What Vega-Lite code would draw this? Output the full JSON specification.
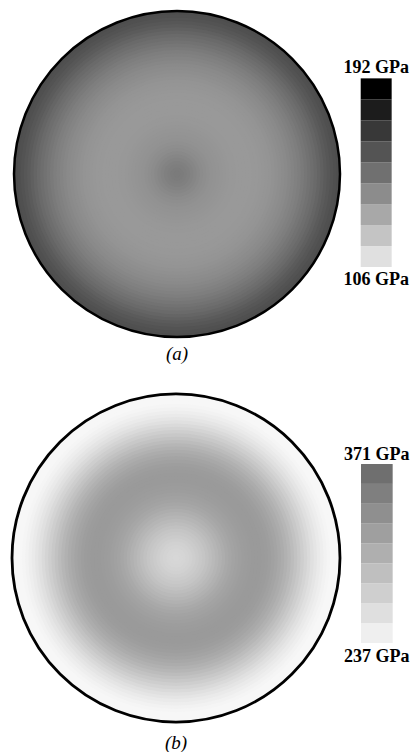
{
  "$schema": "https://vega.github.io/schema/vega-lite/v6.json",
  "padding": 0,
  "spacing": 0,
  "background": "white",
  "config": {"view": {"stroke": null}},
  "resolve": {"scale": {"color": "independent", "size": "independent", "x": "independent", "y": "independent"}},
  "datasets": {
    "ringsA": [
      {"r": 1.00, "E": 160.6}, {"r": 0.98, "E": 159.9}, {"r": 0.96, "E": 158.9}, {"r": 0.94, "E": 157.5},
      {"r": 0.92, "E": 156.2}, {"r": 0.90, "E": 154.5}, {"r": 0.88, "E": 152.8}, {"r": 0.86, "E": 151.0},
      {"r": 0.84, "E": 149.7}, {"r": 0.82, "E": 148.3}, {"r": 0.80, "E": 146.9}, {"r": 0.78, "E": 145.6},
      {"r": 0.76, "E": 144.2}, {"r": 0.74, "E": 143.2}, {"r": 0.72, "E": 142.2}, {"r": 0.70, "E": 141.2},
      {"r": 0.68, "E": 140.1}, {"r": 0.66, "E": 139.4}, {"r": 0.64, "E": 138.8}, {"r": 0.62, "E": 138.1},
      {"r": 0.60, "E": 137.4}, {"r": 0.58, "E": 136.7}, {"r": 0.56, "E": 136.4}, {"r": 0.54, "E": 136.0},
      {"r": 0.52, "E": 135.7}, {"r": 0.50, "E": 135.4}, {"r": 0.48, "E": 135.4}, {"r": 0.46, "E": 135.0},
      {"r": 0.44, "E": 135.0}, {"r": 0.42, "E": 135.0}, {"r": 0.40, "E": 135.0}, {"r": 0.38, "E": 135.0},
      {"r": 0.36, "E": 135.4}, {"r": 0.34, "E": 135.4}, {"r": 0.32, "E": 135.7}, {"r": 0.30, "E": 136.0},
      {"r": 0.28, "E": 136.4}, {"r": 0.26, "E": 136.7}, {"r": 0.24, "E": 137.1}, {"r": 0.22, "E": 137.4},
      {"r": 0.20, "E": 138.1}, {"r": 0.18, "E": 138.8}, {"r": 0.16, "E": 139.4}, {"r": 0.14, "E": 140.5},
      {"r": 0.12, "E": 141.5}, {"r": 0.10, "E": 142.5}, {"r": 0.08, "E": 143.5}, {"r": 0.06, "E": 144.2},
      {"r": 0.04, "E": 144.9}, {"r": 0.02, "E": 145.3}
    ],
    "ringsB": [
      {"r": 1.00, "E": 237}, {"r": 0.98, "E": 237}, {"r": 0.96, "E": 237}, {"r": 0.94, "E": 238.9},
      {"r": 0.92, "E": 241.7}, {"r": 0.90, "E": 245.4}, {"r": 0.88, "E": 249.1}, {"r": 0.86, "E": 253.8},
      {"r": 0.84, "E": 258.4}, {"r": 0.82, "E": 264.0}, {"r": 0.80, "E": 269.6}, {"r": 0.78, "E": 275.2},
      {"r": 0.76, "E": 280.8}, {"r": 0.74, "E": 286.4}, {"r": 0.72, "E": 291.9}, {"r": 0.70, "E": 297.5},
      {"r": 0.68, "E": 302.2}, {"r": 0.66, "E": 306.8}, {"r": 0.64, "E": 310.6}, {"r": 0.62, "E": 314.3},
      {"r": 0.60, "E": 317.1}, {"r": 0.58, "E": 319.9}, {"r": 0.56, "E": 321.7}, {"r": 0.54, "E": 322.7},
      {"r": 0.52, "E": 323.6}, {"r": 0.50, "E": 323.6}, {"r": 0.48, "E": 323.6}, {"r": 0.46, "E": 322.7},
      {"r": 0.44, "E": 321.7}, {"r": 0.42, "E": 320.8}, {"r": 0.40, "E": 319.0}, {"r": 0.38, "E": 317.1},
      {"r": 0.36, "E": 315.2}, {"r": 0.34, "E": 312.4}, {"r": 0.32, "E": 309.6}, {"r": 0.30, "E": 305.9},
      {"r": 0.28, "E": 302.2}, {"r": 0.26, "E": 298.5}, {"r": 0.24, "E": 294.7}, {"r": 0.22, "E": 291.0},
      {"r": 0.20, "E": 287.3}, {"r": 0.18, "E": 283.6}, {"r": 0.16, "E": 280.8}, {"r": 0.14, "E": 278.0},
      {"r": 0.12, "E": 275.2}, {"r": 0.10, "E": 272.4}, {"r": 0.08, "E": 270.5}, {"r": 0.06, "E": 268.7},
      {"r": 0.04, "E": 267.7}, {"r": 0.02, "E": 266.8}
    ],
    "legendA": [
      {"lo": 106, "hi": 115.56, "E": 110.78}, {"lo": 115.56, "hi": 125.11, "E": 120.33},
      {"lo": 125.11, "hi": 134.67, "E": 129.89}, {"lo": 134.67, "hi": 144.22, "E": 139.44},
      {"lo": 144.22, "hi": 153.78, "E": 149}, {"lo": 153.78, "hi": 163.33, "E": 158.56},
      {"lo": 163.33, "hi": 172.89, "E": 168.11}, {"lo": 172.89, "hi": 182.44, "E": 177.67},
      {"lo": 182.44, "hi": 192, "E": 187.22}
    ],
    "legendB": [
      {"lo": 237, "hi": 251.89, "E": 244.44}, {"lo": 251.89, "hi": 266.78, "E": 259.33},
      {"lo": 266.78, "hi": 281.67, "E": 274.22}, {"lo": 281.67, "hi": 296.56, "E": 289.11},
      {"lo": 296.56, "hi": 311.44, "E": 304}, {"lo": 311.44, "hi": 326.33, "E": 318.89},
      {"lo": 326.33, "hi": 341.22, "E": 333.78}, {"lo": 341.22, "hi": 356.11, "E": 348.67},
      {"lo": 356.11, "hi": 371, "E": 363.56}
    ],
    "labels": [
      {"panel": "a", "end": "max", "E": 192, "label": "192 GPa"},
      {"panel": "a", "end": "min", "E": 106, "label": "106 GPa"},
      {"panel": "b", "end": "max", "E": 371, "label": "371 GPa"},
      {"panel": "b", "end": "min", "E": 237, "label": "237 GPa"}
    ],
    "captions": [
      {"panel": "a", "label": "(a)"},
      {"panel": "b", "label": "(b)"}
    ]
  },
  "vconcat": [
    {
      "width": 414,
      "height": 376,
      "resolve": {"scale": {"y": "independent"}},
      "layer": [
        {
          "data": {"name": "ringsA"},
          "mark": {"type": "point", "shape": "circle", "filled": true, "opacity": 1},
          "encoding": {
            "x": {"datum": 0, "type": "quantitative", "scale": {"domain": [-1.086, 1.454], "nice": false, "zero": false}, "axis": null},
            "y": {"datum": 0, "type": "quantitative", "scale": {"domain": [-1.239, 1.0675], "nice": false, "zero": false}, "axis": null},
            "size": {"field": "r", "type": "quantitative", "scale": {"type": "pow", "exponent": 2, "domain": [0, 1], "range": [0, 106276]}, "legend": null},
            "color": {"field": "E", "type": "quantitative", "scale": {"domain": [110.78, 187.22], "range": ["#e0e0e0", "#000000"], "interpolate": "rgb", "clamp": true}, "legend": null},
            "order": {"field": "r", "sort": "descending"}
          }
        },
        {
          "data": {"name": "ringsA"},
          "transform": [{"filter": "datum.r == 1"}],
          "mark": {"type": "point", "shape": "circle", "filled": false, "opacity": 1, "stroke": "#000000", "strokeWidth": 2.5},
          "encoding": {
            "x": {"datum": 0, "type": "quantitative", "scale": {"domain": [-1.086, 1.454], "nice": false, "zero": false}, "axis": null},
            "y": {"datum": 0, "type": "quantitative", "scale": {"domain": [-1.239, 1.0675], "nice": false, "zero": false}, "axis": null},
            "size": {"field": "r", "type": "quantitative", "scale": {"type": "pow", "exponent": 2, "domain": [0, 1], "range": [0, 106276]}, "legend": null}
          }
        },
        {
          "data": {"name": "legendA"},
          "mark": {"type": "rect"},
          "encoding": {
            "x": {"datum": 1.127, "type": "quantitative", "scale": {"domain": [-1.086, 1.454], "nice": false, "zero": false}, "axis": null},
            "x2": {"datum": 1.317},
            "y": {"field": "lo", "type": "quantitative", "scale": {"domain": [56.31, 227.72], "nice": false, "zero": false}, "axis": null},
            "y2": {"field": "hi"},
            "color": {"field": "E", "type": "quantitative", "scale": {"domain": [110.78, 187.22], "range": ["#e0e0e0", "#000000"], "interpolate": "rgb", "clamp": true}, "legend": null}
          }
        },
        {
          "data": {"name": "labels"},
          "transform": [{"filter": "datum.panel == 'a' && datum.end == 'max'"}],
          "mark": {"type": "text", "font": "Liberation Serif", "fontWeight": "bold", "fontSize": 18, "align": "center", "baseline": "alphabetic", "dy": -5, "color": "#000000"},
          "encoding": {
            "x": {"datum": 1.222, "type": "quantitative", "scale": {"domain": [-1.086, 1.454], "nice": false, "zero": false}, "axis": null},
            "y": {"field": "E", "type": "quantitative", "scale": {"domain": [56.31, 227.72], "nice": false, "zero": false}, "axis": null},
            "text": {"field": "label"}
          }
        },
        {
          "data": {"name": "labels"},
          "transform": [{"filter": "datum.panel == 'a' && datum.end == 'min'"}],
          "mark": {"type": "text", "font": "Liberation Serif", "fontWeight": "bold", "fontSize": 18, "align": "center", "baseline": "alphabetic", "dy": 18, "color": "#000000"},
          "encoding": {
            "x": {"datum": 1.222, "type": "quantitative", "scale": {"domain": [-1.086, 1.454], "nice": false, "zero": false}, "axis": null},
            "y": {"field": "E", "type": "quantitative", "scale": {"domain": [56.31, 227.72], "nice": false, "zero": false}, "axis": null},
            "text": {"field": "label"}
          }
        },
        {
          "data": {"name": "captions"},
          "transform": [{"filter": "datum.panel == 'a'"}],
          "mark": {"type": "text", "font": "Liberation Serif", "fontStyle": "italic", "fontSize": 19, "align": "center", "baseline": "alphabetic", "color": "#000000"},
          "encoding": {
            "x": {"datum": 0, "type": "quantitative", "scale": {"domain": [-1.086, 1.454], "nice": false, "zero": false}, "axis": null},
            "y": {"datum": -1.141, "type": "quantitative", "scale": {"domain": [-1.239, 1.0675], "nice": false, "zero": false}, "axis": null},
            "text": {"field": "label"}
          }
        }
      ]
    },
    {
      "width": 414,
      "height": 376,
      "resolve": {"scale": {"y": "independent"}},
      "layer": [
        {
          "data": {"name": "ringsB"},
          "mark": {"type": "point", "shape": "circle", "filled": true, "opacity": 1},
          "encoding": {
            "x": {"datum": 0, "type": "quantitative", "scale": {"domain": [-1.073, 1.451], "nice": false, "zero": false}, "axis": null},
            "y": {"datum": 0, "type": "quantitative", "scale": {"domain": [-1.183, 1.11], "nice": false, "zero": false}, "axis": null},
            "size": {"field": "r", "type": "quantitative", "scale": {"type": "pow", "exponent": 2, "domain": [0, 1], "range": [0, 107584]}, "legend": null},
            "color": {"field": "E", "type": "quantitative", "scale": {"domain": [237, 371], "range": ["#f7f7f7", "#676767"], "interpolate": "rgb", "clamp": true}, "legend": null},
            "order": {"field": "r", "sort": "descending"}
          }
        },
        {
          "data": {"name": "ringsB"},
          "transform": [{"filter": "datum.r == 1"}],
          "mark": {"type": "point", "shape": "circle", "filled": false, "opacity": 1, "stroke": "#000000", "strokeWidth": 2.8},
          "encoding": {
            "x": {"datum": 0, "type": "quantitative", "scale": {"domain": [-1.073, 1.451], "nice": false, "zero": false}, "axis": null},
            "y": {"datum": 0, "type": "quantitative", "scale": {"domain": [-1.183, 1.11], "nice": false, "zero": false}, "axis": null},
            "size": {"field": "r", "type": "quantitative", "scale": {"type": "pow", "exponent": 2, "domain": [0, 1], "range": [0, 107584]}, "legend": null}
          }
        },
        {
          "data": {"name": "legendB"},
          "mark": {"type": "rect"},
          "encoding": {
            "x": {"datum": 1.128, "type": "quantitative", "scale": {"domain": [-1.073, 1.451], "nice": false, "zero": false}, "axis": null},
            "x2": {"datum": 1.321},
            "y": {"field": "lo", "type": "quantitative", "scale": {"domain": [155.4, 436.9], "nice": false, "zero": false}, "axis": null},
            "y2": {"field": "hi"},
            "color": {"field": "E", "type": "quantitative", "scale": {"domain": [237, 371], "range": ["#f7f7f7", "#676767"], "interpolate": "rgb", "clamp": true}, "legend": null}
          }
        },
        {
          "data": {"name": "labels"},
          "transform": [{"filter": "datum.panel == 'b' && datum.end == 'max'"}],
          "mark": {"type": "text", "font": "Liberation Serif", "fontWeight": "bold", "fontSize": 18, "align": "center", "baseline": "alphabetic", "dy": -4, "color": "#000000"},
          "encoding": {
            "x": {"datum": 1.2245, "type": "quantitative", "scale": {"domain": [-1.073, 1.451], "nice": false, "zero": false}, "axis": null},
            "y": {"field": "E", "type": "quantitative", "scale": {"domain": [155.4, 436.9], "nice": false, "zero": false}, "axis": null},
            "text": {"field": "label"}
          }
        },
        {
          "data": {"name": "labels"},
          "transform": [{"filter": "datum.panel == 'b' && datum.end == 'min'"}],
          "mark": {"type": "text", "font": "Liberation Serif", "fontWeight": "bold", "fontSize": 18, "align": "center", "baseline": "alphabetic", "dy": 19, "color": "#000000"},
          "encoding": {
            "x": {"datum": 1.2245, "type": "quantitative", "scale": {"domain": [-1.073, 1.451], "nice": false, "zero": false}, "axis": null},
            "y": {"field": "E", "type": "quantitative", "scale": {"domain": [155.4, 436.9], "nice": false, "zero": false}, "axis": null},
            "text": {"field": "label"}
          }
        },
        {
          "data": {"name": "captions"},
          "transform": [{"filter": "datum.panel == 'b'"}],
          "mark": {"type": "text", "font": "Liberation Serif", "fontStyle": "italic", "fontSize": 19, "align": "center", "baseline": "alphabetic", "color": "#000000"},
          "encoding": {
            "x": {"datum": 0, "type": "quantitative", "scale": {"domain": [-1.073, 1.451], "nice": false, "zero": false}, "axis": null},
            "y": {"datum": -1.165, "type": "quantitative", "scale": {"domain": [-1.183, 1.11], "nice": false, "zero": false}, "axis": null},
            "text": {"field": "label"}
          }
        }
      ]
    }
  ]
}
